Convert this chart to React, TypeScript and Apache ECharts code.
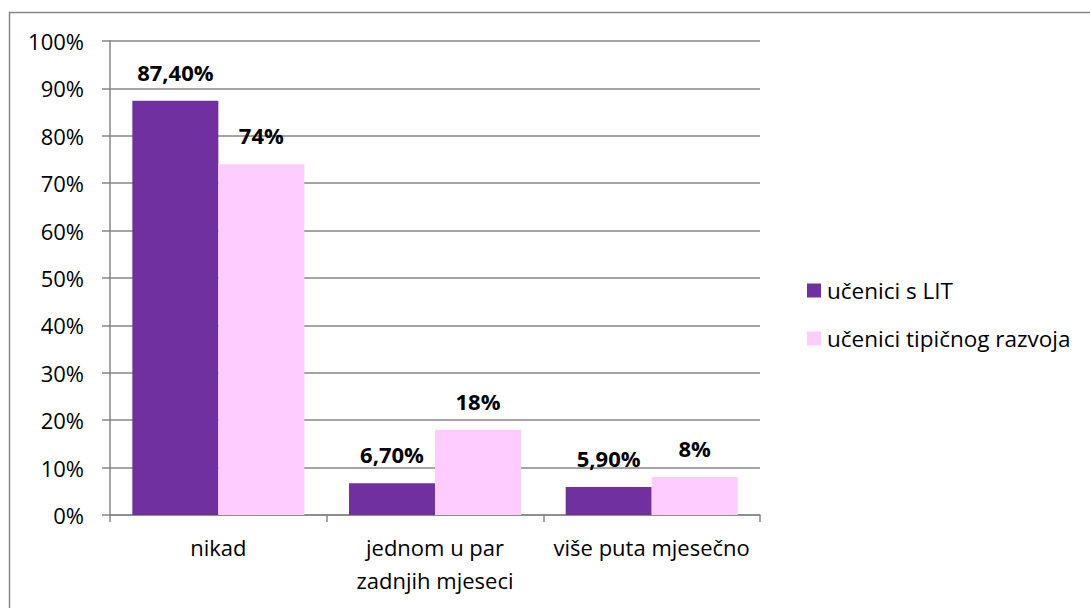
import React, { useEffect, useRef } from "react";
import * as echarts from "echarts";

const categories = ["nikad", "jednom u par\nzadnjih mjeseci", "više puta mjesečno"];
const seriesNames = ["učenici s LIT", "učenici tipičnog razvoja"];
const litValues = [87.4, 6.7, 5.9];
const typicalValues = [74, 18, 8];
const litLabels = ["87,40%", "6,70%", "5,90%"];
const typicalLabels = ["74%", "18%", "8%"];
const yTicks = [0, 10, 20, 30, 40, 50, 60, 70, 80, 90, 100];

const FONT = "'Open Sans', Carlito, Calibri, sans-serif";
const GRAY = "#868686";
const FS = 22;

export default function App() {
  const ref = useRef<HTMLDivElement>(null);
  useEffect(() => {
    if (!ref.current) return;
    const chart = echarts.init(ref.current, null, { renderer: "svg" });
    const mkLabel = (labels: string[]) => ({
      show: true,
      position: "top",
      distance: 18,
      fontFamily: FONT,
      fontSize: FS,
      fontWeight: "bold",
      color: "#000",
      formatter: (p: any) => labels[p.dataIndex],
    });
    chart.setOption({
      animation: false,
      backgroundColor: "#fff",
      textStyle: { fontFamily: FONT },
      graphic: [
        {
          type: "rect",
          shape: { x: 9.5, y: 12.5, width: 1200, height: 800 },
          style: { fill: "none", stroke: GRAY, lineWidth: 1.5 },
          silent: true,
        },
      ],
      grid: { left: 110, right: 330, top: 41, bottom: 93 },
      legend: {
        orient: "vertical",
        left: 802,
        top: 274,
        itemWidth: 14,
        itemHeight: 14,
        itemGap: 25,
        icon: "rect",
        textStyle: { fontFamily: FONT, fontSize: 22.5, lineHeight: 22, color: "#000", padding: [0, 0, 0, 1] },
        data: seriesNames,
      },
      xAxis: {
        type: "category",
        data: categories,
        axisLine: { lineStyle: { color: GRAY, width: 1.5 } },
        axisTick: { show: true, length: 7, lineStyle: { color: GRAY, width: 1.5 } },
        axisLabel: {
          fontFamily: FONT,
          fontSize: FS,
          color: "#000",
          margin: 15,
          lineHeight: 33,
          verticalAlign: "top",
          interval: 0,
        },
      },
      yAxis: {
        type: "value",
        min: 0,
        max: 100,
        interval: 10,
        axisLine: { show: true, lineStyle: { color: GRAY, width: 1.5 } },
        axisTick: { show: true, length: 8, lineStyle: { color: GRAY, width: 1.5 } },
        splitLine: { lineStyle: { color: GRAY, width: 1.5 } },
        axisLabel: {
          fontFamily: FONT,
          fontSize: FS,
          color: "#000",
          margin: 26,
          formatter: (v: number) => (yTicks.includes(v) ? v + "%" : ""),
        },
      },
      series: [
        {
          name: seriesNames[0],
          type: "bar",
          data: litValues,
          barWidth: 86,
          barGap: "0%",
          itemStyle: { color: "#7030A0" },
          label: mkLabel(litLabels),
        },
        {
          name: seriesNames[1],
          type: "bar",
          data: typicalValues,
          barWidth: 86,
          barGap: "0%",
          itemStyle: { color: "#FFCCFF" },
          label: mkLabel(typicalLabels),
        },
      ],
    });
    return () => chart.dispose();
  }, []);
  return (
    <div
      ref={ref}
      style={{ position: "fixed", left: 0, top: 0, width: 1090, height: 608 }}
    />
  );
}
